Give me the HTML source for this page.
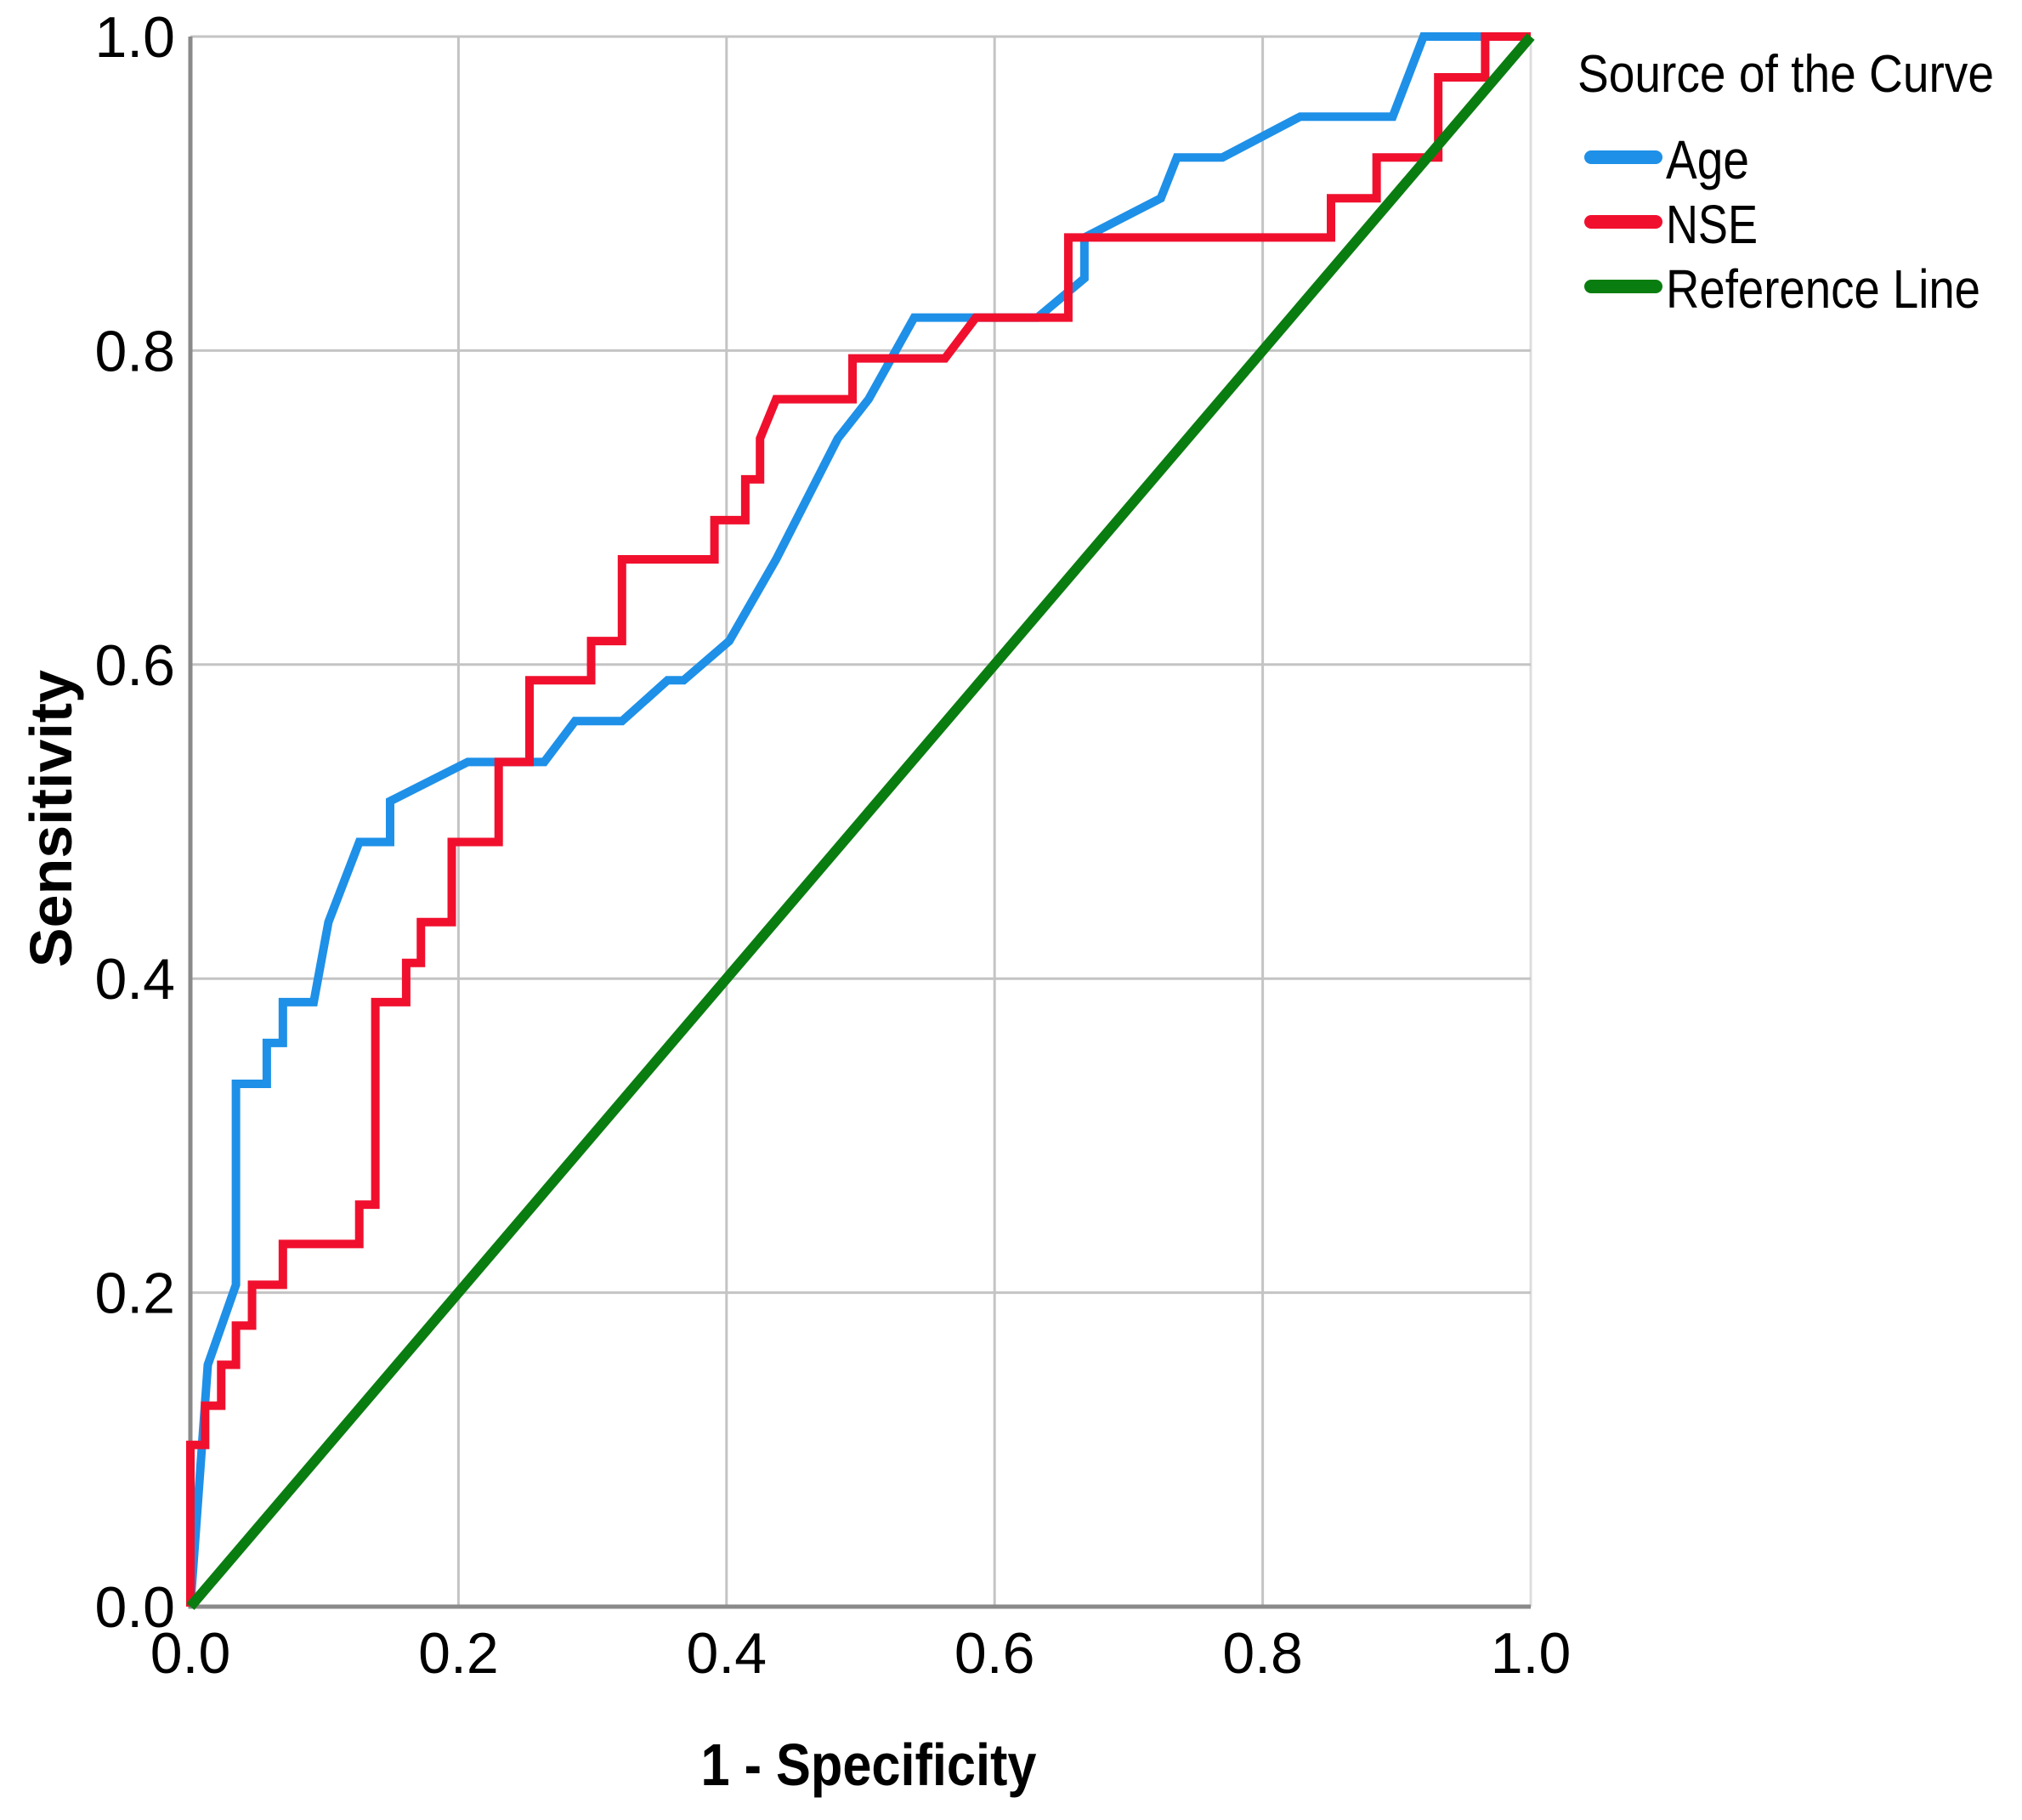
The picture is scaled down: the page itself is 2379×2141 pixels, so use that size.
<!DOCTYPE html>
<html><head><meta charset="utf-8"><style>
html,body{margin:0;padding:0;background:#fff;}
svg{display:block;font-family:"Liberation Sans",Arial,sans-serif;}
</style></head><body>
<svg id="chart" width="2379" height="2141" viewBox="0 0 2379 2141" xmlns="http://www.w3.org/2000/svg">
<g id="grid"></g>
<g id="axes"></g>
<g id="series"></g>
<text x="1022" y="2100" font-size="70" font-weight="bold" text-anchor="middle" textLength="395" lengthAdjust="spacingAndGlyphs">1 - Specificity</text>
<text x="0" y="0" font-size="70" font-weight="bold" text-anchor="middle" textLength="350" lengthAdjust="spacingAndGlyphs" transform="translate(84 963) rotate(-90)">Sensitivity</text>
<g>
<text x="1856" y="108" font-size="62" textLength="490" lengthAdjust="spacingAndGlyphs">Source of the Curve</text>
<g>
<line x1="1872" y1="185" x2="1948" y2="185" stroke="#1e90e8" stroke-width="16" stroke-linecap="round"/>
<text x="1960" y="210" font-size="64" textLength="98" lengthAdjust="spacingAndGlyphs">Age</text></g>
<g>
<line x1="1872" y1="261" x2="1948" y2="261" stroke="#f0102e" stroke-width="16" stroke-linecap="round"/>
<text x="1960" y="286" font-size="64" textLength="108" lengthAdjust="spacingAndGlyphs">NSE</text></g>
<g>
<line x1="1872" y1="337" x2="1948" y2="337" stroke="#0a7d10" stroke-width="16" stroke-linecap="round"/>
<text x="1960" y="362" font-size="64" textLength="370" lengthAdjust="spacingAndGlyphs">Reference Line</text></g>
</g>
</svg>
<script>
const xTicks=[0,0.2,0.4,0.6,0.8,1.0];
const yTicks=[0,0.2,0.4,0.6,0.8,1.0];
const tickLabels=["0.0","0.2","0.4","0.6","0.8","1.0"];
const ageX=[0,0.013,0.034,0.034,0.057,0.057,0.069,0.069,0.092,0.103,0.126,0.149,0.149,0.207,0.264,0.287,0.322,0.356,0.368,0.402,0.437,0.483,0.506,0.540,0.632,0.667,0.667,0.724,0.736,0.770,0.828,0.897,0.920,1];
const ageY=[0,0.154,0.205,0.333,0.333,0.359,0.359,0.385,0.385,0.436,0.487,0.487,0.513,0.538,0.538,0.564,0.564,0.590,0.590,0.615,0.667,0.744,0.769,0.821,0.821,0.846,0.872,0.897,0.923,0.923,0.949,0.949,1.0,1.0];
const nseX=[0,0,0.011,0.011,0.023,0.023,0.034,0.034,0.046,0.046,0.069,0.069,0.126,0.126,0.138,0.138,0.161,0.161,0.172,0.172,0.195,0.195,0.230,0.230,0.253,0.253,0.299,0.299,0.322,0.322,0.391,0.391,0.414,0.414,0.425,0.425,0.437,0.494,0.494,0.563,0.586,0.655,0.655,0.851,0.851,0.885,0.885,0.931,0.931,0.966,0.966,1];
const nseY=[0,0.103,0.103,0.128,0.128,0.154,0.154,0.179,0.179,0.205,0.205,0.231,0.231,0.256,0.256,0.385,0.385,0.410,0.410,0.436,0.436,0.487,0.487,0.538,0.538,0.590,0.590,0.615,0.615,0.667,0.667,0.692,0.692,0.718,0.718,0.744,0.769,0.769,0.795,0.795,0.821,0.821,0.872,0.872,0.897,0.897,0.923,0.923,0.974,0.974,1.0,1.0];
const refX=[0,1];
const refY=[0,1];
const X0=224,X1=1801,Y0=1890,Y1=43;
const sx=v=>X0+(X1-X0)*v, sy=v=>Y0-(Y0-Y1)*v;
const NS="http://www.w3.org/2000/svg";
function mk(t,a,p){const e=document.createElementNS(NS,t);for(const k in a)e.setAttribute(k,a[k]);p.appendChild(e);return e;}
const grid=document.getElementById('grid'),axes=document.getElementById('axes'),ser=document.getElementById('series');
xTicks.forEach((v,i)=>{
 const l=mk('line',{x1:sx(v),x2:sx(v),y1:Y1,y2:Y0,stroke:i==5?'#dddddd':'#c4c4c4','stroke-width':3},grid);
 
 
 const t=mk('text',{x:sx(v),y:1968,'font-size':68,'text-anchor':'middle'},axes);
 t.textContent=tickLabels[i];
 
 
});
yTicks.forEach((v,i)=>{
 const l=mk('line',{x1:X0,x2:X1,y1:sy(v),y2:sy(v),stroke:'#c4c4c4','stroke-width':3},grid);
 
 
 const t=mk('text',{x:206,y:sy(v)+24,'font-size':68,'text-anchor':'end'},axes);
 t.textContent=tickLabels[i];
 
 
});
const ax=mk('path',{d:`M${X0} ${Y1} L${X0} ${Y0} L${X1} ${Y0}`,stroke:'#8a8a8a','stroke-width':5,fill:'none'},axes);


function line(xs,ys,c,w){return mk('polyline',{points:xs.map((x,i)=>sx(x)+','+sy(ys[i])).join(' '),stroke:c,'stroke-width':w,fill:'none','stroke-linejoin':'miter'},ser);}
const a=line(ageX,ageY,'#1e90e8',10);


const n=line(nseX,nseY,'#f0102e',10);


const r=line(refX,refY,'#0a7d10',12);


</script>
</body></html>
